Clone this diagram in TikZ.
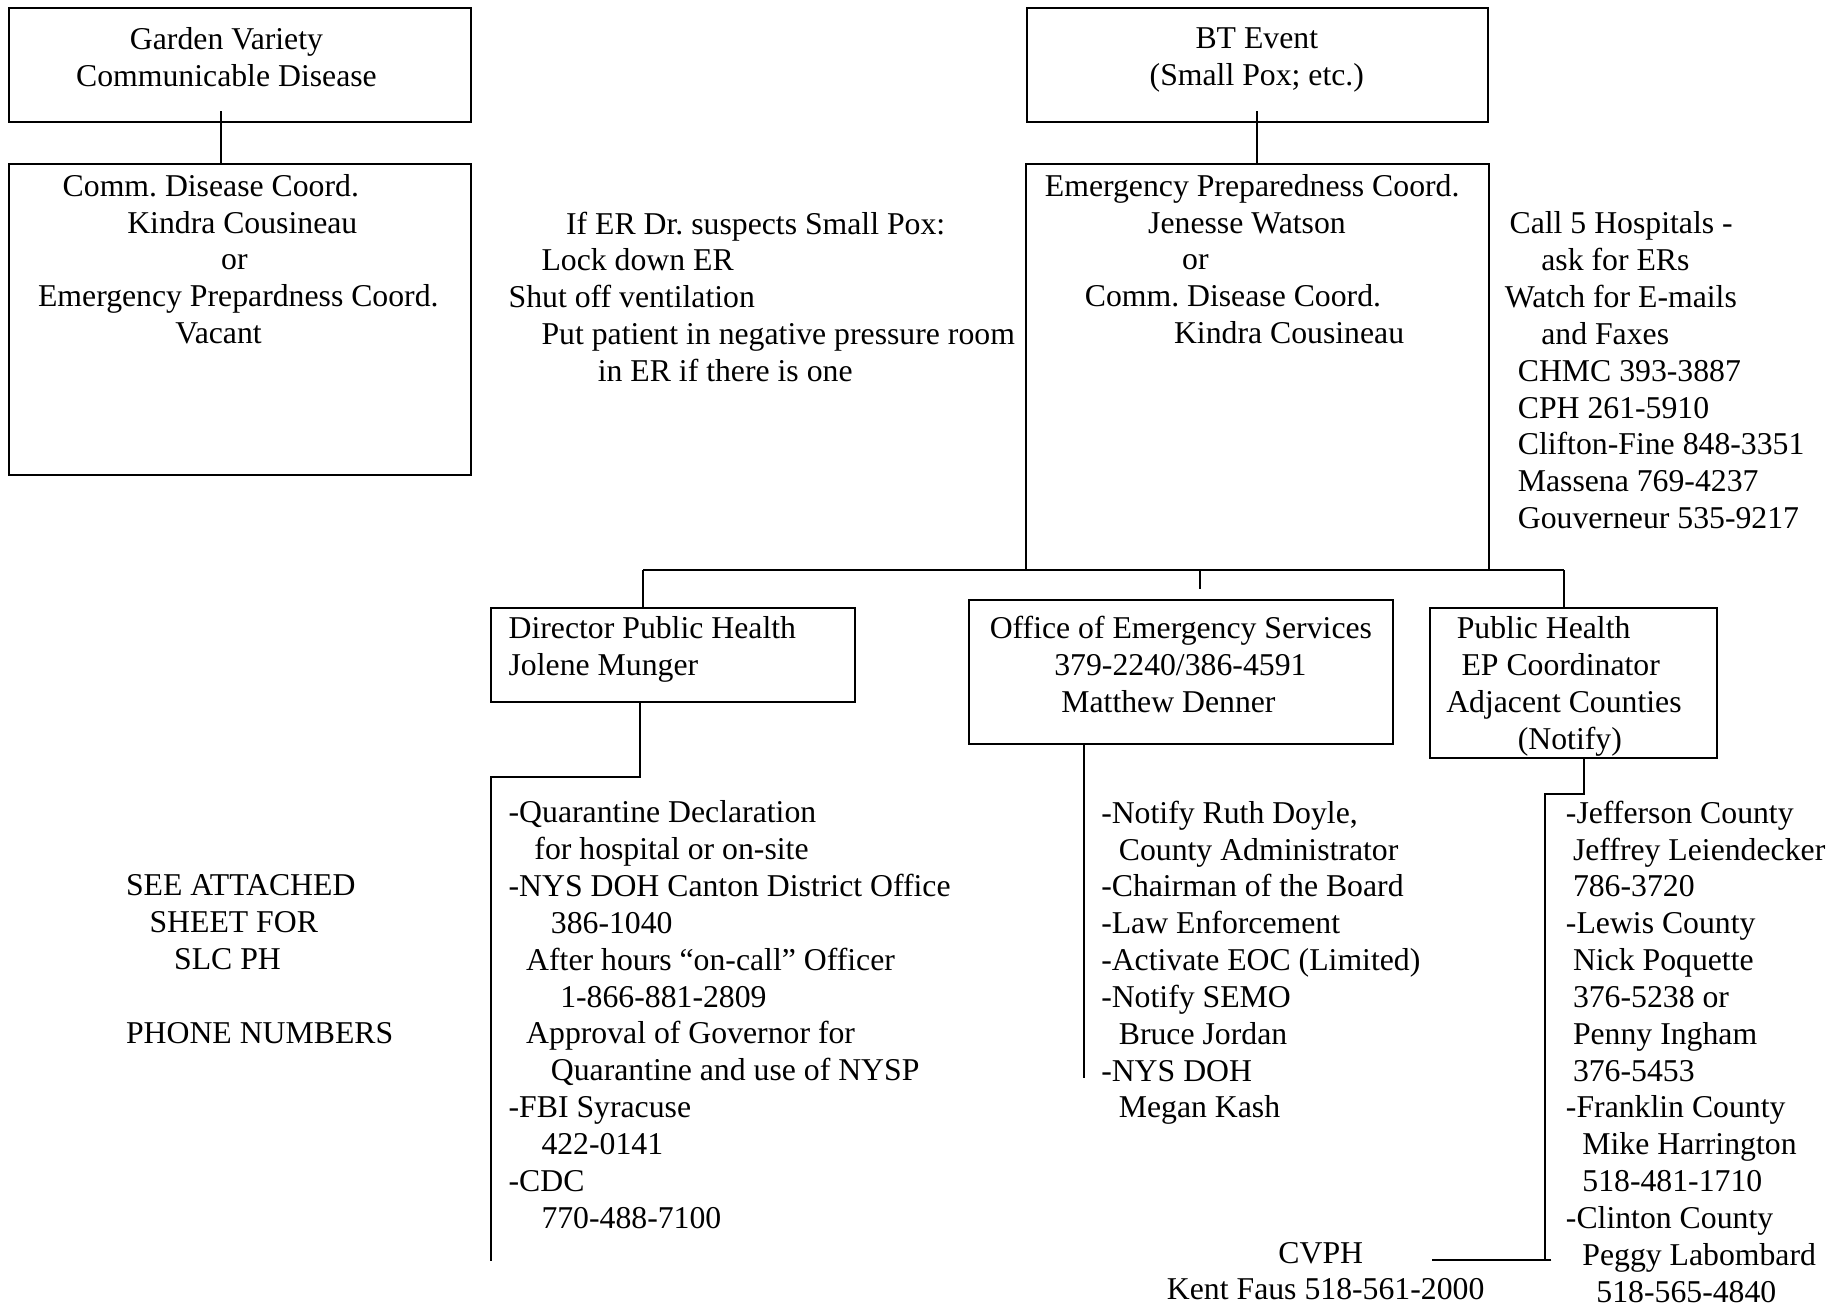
\documentclass[tikz,border=0pt]{standalone}
\usepackage{fontspec}
\setmainfont{Liberation Serif}
\usetikzlibrary{fit}
\frenchspacing
\newlength\pxu
\setlength\pxu{0.4436pt}
\newcommand\ind[1]{\hspace*{#1\pxu}}
\tikzset{
  wire/.style={line width=0.75pt},
  box/.style={draw, line width=0.75pt, inner sep=0pt},
  frame/.style={inner sep=0pt},
  txt/.style={anchor=north west, inner sep=0pt, align=left,
    font=\fontsize{12}{13.93}\selectfont, execute at begin node=\strut},
  ctxt/.style={txt, anchor=north, align=center}
}
\begin{document}
\begin{tikzpicture}[x=0.4436pt, y=-0.4436pt]
\useasboundingbox (0,0) rectangle (1568,1111);

% ---- left branch: ordinary communicable disease
\node[box, fit={(8,7) (401,104)}] (garden) {};
\node[ctxt] (gardentxt) at (193,23) {Garden Variety\\Communicable Disease};
\node[box, fit={(8,140) (401,405)}] (comm) {};
\node[txt] (commtxt) at (32,148) {\ind{21}Comm. Disease Coord.\\
  \ind{76}Kindra Cousineau\\
  \ind{156}or\\
  Emergency Prepardness Coord.\\
  \ind{117}Vacant};
\draw[wire] ([xshift=-16.5\pxu, yshift=10\pxu]garden.south) -- ([xshift=-16.5\pxu]comm.north);

% ---- ER instructions
\node[txt] (ertxt) at (433,180) {\ind{49}If ER Dr. suspects Small Pox:\\
  \ind{28}Lock down ER\\
  Shut off ventilation\\
  \ind{28}Put patient in negative pressure room\\
  \ind{76}in ER if there is one};

% ---- right branch: BT event
\node[box, fit={(875,7) (1268,104)}] (bt) {};
\node[ctxt] (bttxt) at (1071,23) {BT Event\\(Small Pox; etc.)};
\node[frame, fit={(875,140) (1268,486)}] (ep) {};
\draw[wire] (ep.south west) |- (ep.north east) -- (ep.south east);
\node[txt] (eptxt) at (890,148) {Emergency Preparedness Coord.\\
  \ind{88}Jenesse Watson\\
  \ind{117}or\\
  \ind{34}Comm. Disease Coord.\\
  \ind{110}Kindra Cousineau};
\draw[wire] ([yshift=10\pxu]bt.south) -- (ep.north);

% ---- hospitals to call
\node[txt] (hosp) at (1282,180) {\ind{4}Call 5 Hospitals -\\
  \ind{31}ask for ERs\\
  Watch for E-mails\\
  \ind{31}and Faxes\\
  \ind{11}CHMC 393-3887\\
  \ind{11}CPH 261-5910\\
  \ind{11}Clifton-Fine 848-3351\\
  \ind{11}Massena 769-4237\\
  \ind{11}Gouverneur 535-9217};

% ---- second level boxes
\node[box, fit={(418,518) (729,598)}] (dir) {};
\node[txt] (dirtxt) at (433,525) {Director Public Health\\Jolene Munger};
\node[box, fit={(826,511) (1187,634)}] (oes) {};
\node[txt] (oestxt) at (843,525) {Office of Emergency Services\\
  \ind{55}379-2240/386-4591\\
  \ind{61}Matthew Denner};
\node[box, fit={(1219,518) (1463,646)}] (ph) {};
\node[txt] (phtxt) at (1232,525) {\ind{9}Public Health\\
  \ind{13}EP Coordinator\\
  Adjacent Counties\\
  \ind{61}(Notify)};

% ---- distribution bar
\coordinate (busL) at (548,486);
\coordinate (busR) at (1333,486);
\coordinate (busM) at (1023,486);
\draw[wire] (busL) -- (busR);
\draw[wire] (busL) -- (busL |- dir.north);
\draw[wire] (busR) -- (busR |- ph.north);
\draw[wire] (busM) -- ([yshift=8\pxu]busM |- oes.north);

% ---- director list
\coordinate (dirbend) at (418,662);
\coordinate (dirend) at (418,1075);
\draw[wire] ([xshift=-28.5\pxu]dir.south) |- (dirbend) -- (dirend);
\node[txt] (dirlist) at (433,682) {-Quarantine Declaration\\
  \ind{22}for hospital or on-site\\
  -NYS DOH Canton District Office\\
  \ind{36}386-1040\\
  \ind{15}After hours “on-call” Officer\\
  \ind{44}1-866-881-2809\\
  \ind{15}Approval of Governor for\\
  \ind{36}Quarantine and use of NYSP\\
  -FBI Syracuse\\
  \ind{28}422-0141\\
  -CDC\\
  \ind{28}770-488-7100};

% ---- note at left
\node[txt] (seenote) at (107,745) {SEE ATTACHED\\
  \ind{20}SHEET FOR\\
  \ind{41}SLC PH\\
  \mbox{}\\
  PHONE NUMBERS};

% ---- OES list
\coordinate (oesend) at (924,919);
\draw[wire] (oes.south -| oesend) -- (oesend);
\node[txt] (oeslist) at (938,682) {-Notify Ruth Doyle,\\
  \ind{15}County Administrator\\
  -Chairman of the Board\\
  -Law Enforcement\\
  -Activate EOC (Limited)\\
  -Notify SEMO\\
  \ind{15}Bruce Jordan\\
  -NYS DOH\\
  \ind{15}Megan Kash};

% ---- adjacent counties list
\coordinate (phbend) at (1317,677);
\coordinate (phcorner) at (1317,1074);
\coordinate (cvphend) at (1220,1074);
\draw[wire] ([xshift=8.5\pxu]ph.south) |- (phbend) -- (phcorner);
\draw[wire] ([xshift=5\pxu]phcorner) -- (cvphend);
\node[txt] (phlist) at (1334,682) {-Jefferson County\\
  \ind{6}Jeffrey Leiendecker\\
  \ind{6}786-3720\\
  -Lewis County\\
  \ind{6}Nick Poquette\\
  \ind{6}376-5238 or\\
  \ind{6}Penny Ingham\\
  \ind{6}376-5453\\
  -Franklin County\\
  \ind{14}Mike Harrington\\
  \ind{14}518-481-1710\\
  -Clinton County\\
  \ind{14}Peggy Labombard\\
  \ind{26}518-565-4840};
\node[txt] (cvph) at (994,1058) {\ind{95}CVPH\\Kent Faus 518-561-2000};
\end{tikzpicture}
\end{document}
